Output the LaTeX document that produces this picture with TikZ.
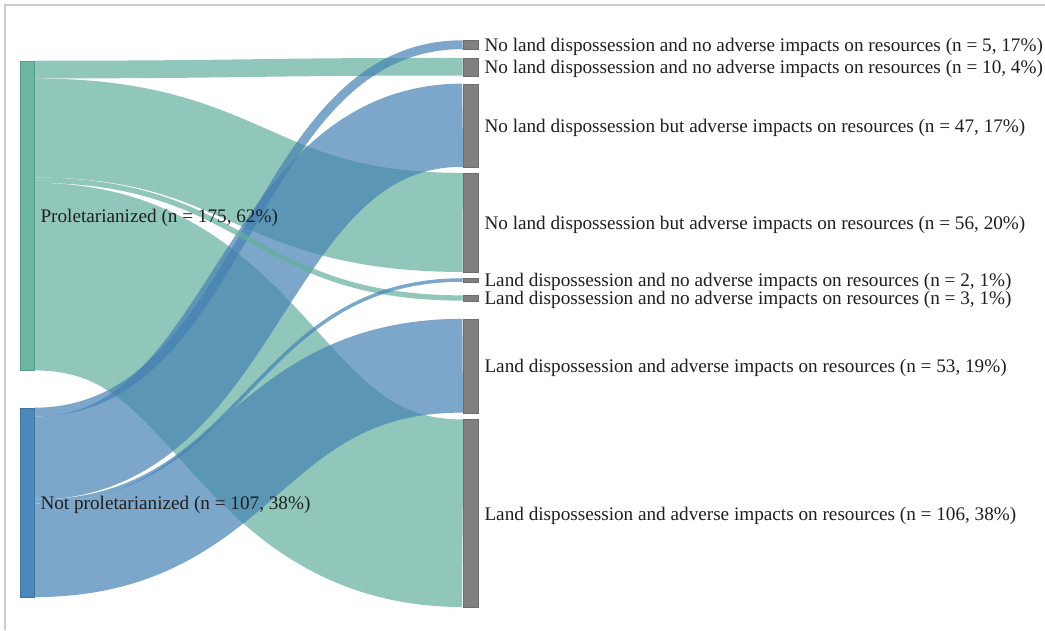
\documentclass[tikz,border=0pt]{standalone}
\usepackage{fontspec}
\setmainfont{Liberation Serif}
\usetikzlibrary{positioning,calc}

\definecolor{greenflow}{RGB}{99,175,158}
\definecolor{blueflow}{RGB}{70,130,180}
\definecolor{greenbar}{RGB}{105,182,162}
\definecolor{bluebar}{RGB}{74,136,190}
\definecolor{graybar}{RGB}{128,128,128}

\pgfdeclarelayer{flows}
\pgfsetlayers{flows,main}

% flow: style, width, from, offset, to, offset
\newcommand{\flow}[6]{%
  \draw[#1, line width=#2pt] ($(#3.north east)+(0,#4+#2/2)$)
    .. controls +(214.5,0) and +(-214.5,0) .. ($(#5.north west)+(0,#6+#2/2)$);}

\begin{document}
\begin{tikzpicture}[x=1pt, y=-1pt,
                    bar/.style={rectangle, inner sep=0pt, line width=0.6pt},
                    leftbar/.style={bar, minimum width=14pt},
                    rightbar/.style={bar, minimum width=15pt, fill=graybar, draw=graybar!85!black},
                    tag/.style={inner sep=0pt, text=black!88, yshift=-2pt,
                    font=\fontsize{19.2}{22}\selectfont},
                    gflow/.style={greenflow, draw opacity=0.7},
                    bflow/.style={blueflow, draw opacity=0.7}]
  \useasboundingbox (0,0) rectangle (1045,630);
  \draw[black!20, line width=1.5pt] (5,630) |- (1045,5);

  % sources
  \node[leftbar, fill=greenbar, draw=greenbar!85!black, minimum height=309.75pt] (prol) at (27,215.9) {};
  \node[leftbar, fill=bluebar, draw=bluebar!85!black, minimum height=189.4pt] (notprol) at (27,502.7) {};

  % targets
  \node[rightbar, minimum height=8.85pt] (nn5) at (470.5,45) {};
  \node[rightbar, minimum height=17.7pt] (nn10) at (470.5,67) {};
  \node[rightbar, minimum height=83.2pt] (na47) at (470.5,125.5) {};
  \node[rightbar, minimum height=99.1pt] (na56) at (470.5,222.7) {};
  \node[rightbar, minimum height=3.54pt] (ln2) at (470.5,280.3) {};
  \node[rightbar, minimum height=5.31pt] (ln3) at (470.5,298.3) {};
  \node[rightbar, minimum height=93.8pt] (la53) at (470.5,366) {};
  \node[rightbar, minimum height=187.6pt] (la106) at (470.5,513.5) {};

  \begin{pgfonlayer}{flows}
    \flow{gflow}{187.6}{prol}{122.1}{la106}{0}
    \flow{gflow}{99.1}{prol}{17.7}{na56}{0}
    \flow{bflow}{93.8}{notprol}{95.6}{la53}{0}
    \flow{bflow}{83.2}{notprol}{8.85}{na47}{0}
    \flow{gflow}{17.7}{prol}{0}{nn10}{0}
    \flow{bflow}{8.85}{notprol}{0}{nn5}{0}
    \flow{gflow}{5.31}{prol}{116.8}{ln3}{0}
    \flow{bflow}{3.54}{notprol}{92.0}{ln2}{0}
  \end{pgfonlayer}

  % labels
  \node[tag, right=6pt of prol] (tprol) {Proletarianized (n = 175, 62\%)};
  \node[tag, right=6pt of notprol] (tnotprol) {Not proletarianized (n = 107, 38\%)};
  \node[tag, right=6pt of nn5] (tnn5) {No land dispossession and no adverse impacts on resources (n = 5, 17\%)};
  \node[tag, right=6pt of nn10] (tnn10) {No land dispossession and no adverse impacts on resources (n = 10, 4\%)};
  \node[tag, right=6pt of na47] (tna47) {No land dispossession but adverse impacts on resources (n = 47, 17\%)};
  \node[tag, right=6pt of na56] (tna56) {No land dispossession but adverse impacts on resources (n = 56, 20\%)};
  \node[tag, right=6pt of ln2] (tln2) {Land dispossession and no adverse impacts on resources (n = 2, 1\%)};
  \node[tag, right=6pt of ln3] (tln3) {Land dispossession and no adverse impacts on resources (n = 3, 1\%)};
  \node[tag, right=6pt of la53] (tla53) {Land dispossession and adverse impacts on resources (n = 53, 19\%)};
  \node[tag, right=6pt of la106] (tla106) {Land dispossession and adverse impacts on resources (n = 106, 38\%)};
\end{tikzpicture}
\end{document}
